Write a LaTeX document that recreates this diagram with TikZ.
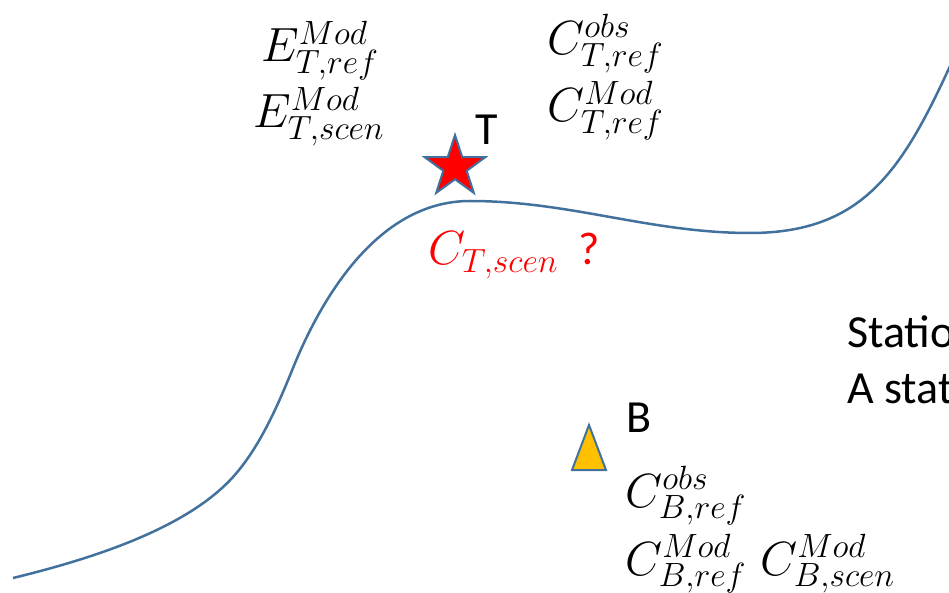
\RequirePackage{fix-cm}
\documentclass[tikz,border=0pt]{standalone}
\usepackage{fontspec}
\setmainfont{Carlito}
\usetikzlibrary{shapes.geometric}
\definecolor{curveblue}{HTML}{41719C}
\definecolor{triorange}{HTML}{FFC000}
\begin{document}
\begin{tikzpicture}[x=1pt,y=-1pt,
  mathlbl/.style={anchor=base west, inner sep=0pt, font=\fontsize{48}{56}\selectfont},
  txtlbl/.style={anchor=base west, inner sep=0pt, font=\fontsize{46}{55}\selectfont}]
\useasboundingbox (0,0) rectangle (949,593);
\clip (0,0) rectangle (949,593);
% terrain curve
\draw[curveblue, line width=2.5pt]
  (13,578) .. controls (91,559) and (186,529) .. (233,477)
           .. controls (260,447) and (278,405) .. (293,368)
           .. controls (323,294) and (380,201) .. (470,201)
           .. controls (570,201) and (650,233) .. (750,233)
           .. controls (870,233) and (907,162) .. (960,44);
% station T (star)
\node[star, star points=5, star point ratio=2.6, minimum size=64pt, inner sep=0pt,
      fill=red, draw=curveblue, line width=2pt] (starT) at (455,167) {};
\node[txtlbl] (labT) at (475,145) {T};
% station B (triangle)
\draw[fill=triorange, draw=curveblue, line width=2pt] (589,425) -- (606,470) -- (572,470) -- cycle;
\node[txtlbl] (labB) at (626,432) {B};
% quantities
\node[mathlbl] (ETref) at (261,62) {$E^{Mod}_{T,ref}$};
\node[mathlbl] (ETscen) at (253,128) {$E^{Mod}_{T,scen}$};
\node[mathlbl] (CTobs) at (547,55) {$C^{obs}_{T,ref}$};
\node[mathlbl] (CTmod) at (547,122) {$C^{Mod}_{T,ref}$};
\node[mathlbl, text=red] (CTscen) at (428,265) {$C_{T,scen}$};
\node[txtlbl, text=red] (qmark) at (578,265) {?};
\node[mathlbl] (CBobs) at (625,507) {$C^{obs}_{B,ref}$};
\node[mathlbl] (CBmod) at (625,575) {$C^{Mod}_{B,ref}$};
\node[mathlbl] (CBscen) at (760,575) {$C^{Mod}_{B,scen}$};
% cut-off text on the right
\node[txtlbl] (stat1) at (847,347) {Station};
\node[txtlbl] (stat2) at (847,403) {A station};
\end{tikzpicture}
\end{document}
